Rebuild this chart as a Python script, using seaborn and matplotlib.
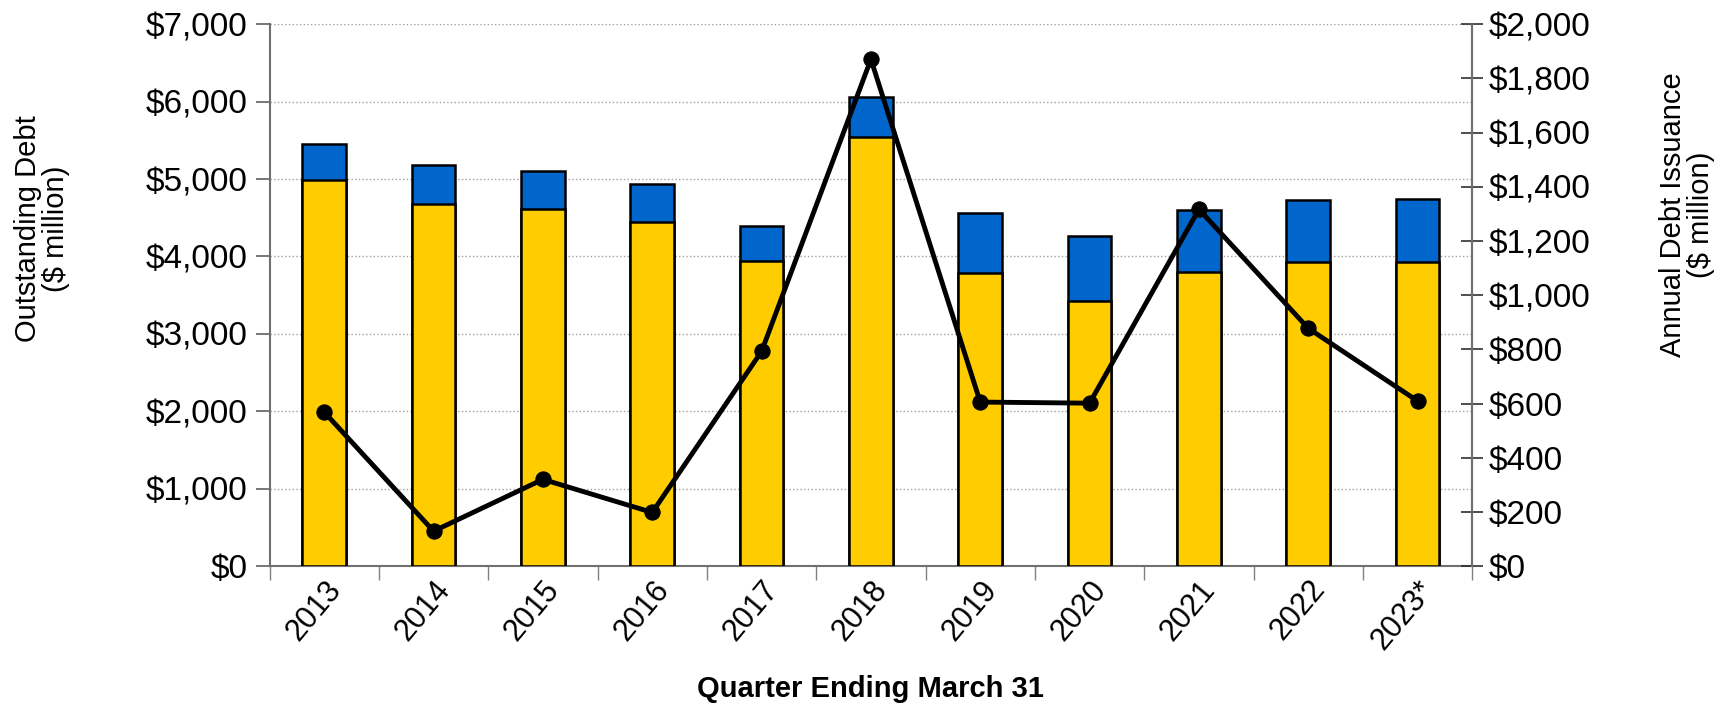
import numpy as np
import pandas as pd
import matplotlib
matplotlib.use('Agg')
import matplotlib.pyplot as plt
import seaborn as sns
from matplotlib.ticker import FuncFormatter, MultipleLocator, FixedLocator

years = ['2013', '2014', '2015', '2016', '2017', '2018', '2019', '2020', '2021', '2022', '2023*']
debt_lower = [4990, 4680, 4610, 4440, 3940, 5540, 3790, 3420, 3800, 3930, 3930]
debt_total = [5450, 5180, 5110, 4930, 4390, 6060, 4560, 4270, 4600, 4730, 4740]
issuance = [569, 130, 321, 199, 793, 1870, 606, 602, 1317, 878, 610]

sns.set_theme(style='white')
plt.rcParams['font.family'] = ['Liberation Sans', 'DejaVu Sans']

df = pd.DataFrame({'year': years, 'lower': debt_lower, 'total': debt_total,
                   'issuance': issuance})

fig, ax = plt.subplots(figsize=(17.28, 7.08), dpi=100)
fig.subplots_adjust(left=0.156, right=0.852, top=0.966, bottom=0.2)

# stacked bars: total in blue behind, lower part in yellow in front
sns.barplot(data=df, x='year', y='total', color='#0066CC', width=0.4,
            edgecolor='black', linewidth=1.8, saturation=1, ax=ax, zorder=2)
sns.barplot(data=df, x='year', y='lower', color='#FFCC00', width=0.4,
            edgecolor='black', linewidth=1.8, saturation=1, ax=ax, zorder=3)

ax.set_ylim(0, 7000)
ax.set_xlim(-0.5, len(years) - 0.5)
ax.yaxis.set_major_locator(MultipleLocator(1000))
ax.yaxis.set_major_formatter(FuncFormatter(lambda v, p: f'${v:,.0f}'))
ax.grid(axis='y', color='#a0a0a0', linestyle=':', linewidth=1.0, zorder=0)
ax.set_axisbelow(True)

ax.tick_params(axis='y', which='major', direction='out', length=10, width=1.2,
               color='#606060', labelsize=24, left=True, pad=6, labelcolor='black')
ax.tick_params(axis='x', which='major', length=0, labelsize=22, pad=6, labelcolor='black')
ax.xaxis.set_minor_locator(FixedLocator(np.arange(-0.5, len(years), 1.0)))
ax.tick_params(axis='x', which='minor', direction='out', length=10, width=1.0,
               color='#808080', bottom=True)
for lbl in ax.get_xticklabels():
    lbl.set_rotation(50)
    lbl.set_ha('right')
    lbl.set_rotation_mode('anchor')

ax.set_xlabel('Quarter Ending March 31', fontsize=21, fontweight='bold', labelpad=14,
              color='black')
ax.set_ylabel('Outstanding Debt\n($ million)', fontsize=21, color='black',
              linespacing=1.0)
ax.yaxis.set_label_coords(-0.166, 0.622)

for side in ['top']:
    ax.spines[side].set_visible(False)
for side in ['left', 'right', 'bottom']:
    ax.spines[side].set_color('#707070')
    ax.spines[side].set_linewidth(1.5)

ax2 = ax.twinx()
sns.lineplot(x=np.arange(len(years)), y=df['issuance'], color='black', linewidth=3.5,
             marker='o', markersize=11, markeredgecolor='black', ax=ax2, zorder=5)
ax2.set_ylim(0, 2000)
ax2.yaxis.set_major_locator(MultipleLocator(200))
ax2.yaxis.set_major_formatter(FuncFormatter(lambda v, p: f'${v:,.0f}'))
ax2.tick_params(axis='y', which='major', direction='inout', length=16, width=1.2,
                color='#303030', labelsize=24, right=True, pad=4, labelcolor='black')
ax2.set_ylabel('Annual Debt Issuance\n($ million)', fontsize=21,
               color='black', linespacing=1.0)
ax2.yaxis.set_label_coords(1.155, 0.648)
ax2.grid(False)
for side in ['top', 'left', 'bottom']:
    ax2.spines[side].set_visible(False)
ax2.spines['right'].set_color('#707070')
ax2.spines['right'].set_linewidth(1.5)

fig.savefig('out.png', dpi=100)
